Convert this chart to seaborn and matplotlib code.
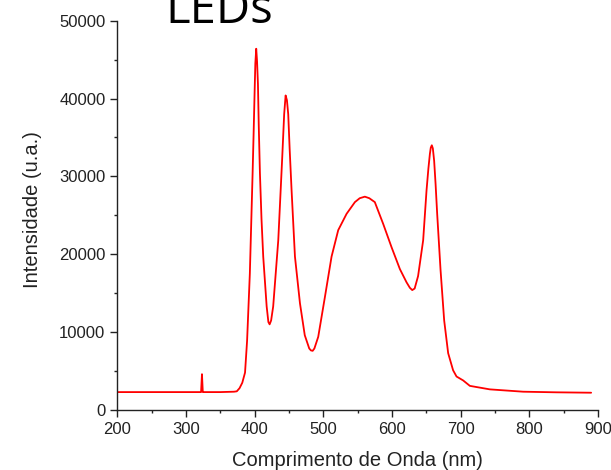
import matplotlib
matplotlib.use("Agg")
import matplotlib.pyplot as plt
import seaborn as sns
import pandas as pd
from matplotlib.ticker import MultipleLocator

wavelength = [200, 250, 300, 320, 322, 323.3, 324.5, 326, 350, 370, 374, 378, 382, 386, 389,
              393, 397, 398.5, 400, 401, 402.3, 403.5, 404.8, 406, 407.7, 410, 412.5, 417.5, 420,
              421.8, 424, 427, 434.4, 440.2, 443, 445.1, 447, 448.9, 451, 453.8, 458.7, 466, 473,
              479.5, 482, 484.5, 487, 492.6, 502.3, 512, 521.7, 533.9, 546, 553, 560.5, 567, 575,
              587.2, 599.4, 611.5, 621.2, 626, 629.5, 633, 638, 645.4, 650.3, 653, 655.2, 656.5,
              658, 659.5, 661.4, 663.5, 665.8, 670.7, 676, 681.8, 689, 694, 703.6, 713.4, 723,
              742.5, 791, 839.6, 890]
intensity = [2300, 2300, 2300, 2300, 2300, 4600, 2300, 2300, 2300, 2350, 2400, 2800, 3500, 4800, 8900,
             17500, 30300, 35500, 41000, 44500, 46400, 44800, 41900, 36500, 30400, 24500, 19700, 13300, 11300,
             11000, 11500, 13300, 21800, 32500, 38000, 40400, 39800, 38000, 33500, 28200, 19700, 13700, 9600,
             7900, 7650, 7600, 7900, 9400, 14500, 19700, 23100, 25200, 26700, 27200, 27400, 27200, 26700,
             23900, 20900, 18100, 16400, 15700, 15400, 15600, 17200, 21800, 28200, 31000, 32900, 33700,
             34000, 33600, 32000, 29000, 25200, 18000, 11500, 7300, 5100, 4300, 3800, 3100, 2950,
             2650, 2350, 2270, 2220]

title = "LEDs"
xlabel = "Comprimento de Onda (nm)"
ylabel = "Intensidade (u.a.)"

df = pd.DataFrame({"wl": wavelength, "I": intensity})

sns.set_style("ticks")
plt.rcParams['font.family'] = ['Liberation Sans', 'DejaVu Sans']

fig = plt.figure(figsize=(6.11, 4.70), dpi=100)
ax = fig.add_axes([117.3 / 611, 1 - 410 / 470, (598 - 117.3) / 611, (410 - 20.7) / 470])
sns.lineplot(data=df, x="wl", y="I", ax=ax, color="#ff0000", linewidth=1.3, sort=False)

ax.set_xlim(200, 900)
ax.set_ylim(0, 50000)
ax.xaxis.set_major_locator(MultipleLocator(100))
ax.xaxis.set_minor_locator(MultipleLocator(50))
ax.yaxis.set_major_locator(MultipleLocator(10000))
ax.yaxis.set_minor_locator(MultipleLocator(5000))
ax.tick_params(which="major", length=5, width=1, direction="out", labelsize=12, colors="#222222")
ax.tick_params(which="minor", length=2.5, width=1, direction="out", colors="#222222")
for s in ["top", "right"]:
    ax.spines[s].set_visible(False)
for s in ["left", "bottom"]:
    ax.spines[s].set_linewidth(1)
    ax.spines[s].set_color("#222222")

ax.set_xlabel(xlabel, fontsize=14.5, color="#222222", labelpad=10)
ax.set_ylabel(ylabel, fontsize=14.5, color="#222222")
ax.yaxis.set_label_coords(-0.157, 0.516)

fig.text(165 / 611, 1 - 23 / 470, title, fontsize=34, family=["Open Sans", "DejaVu Sans"],
         va="baseline", ha="left", color="black")

fig.savefig("out.png", dpi=100)
